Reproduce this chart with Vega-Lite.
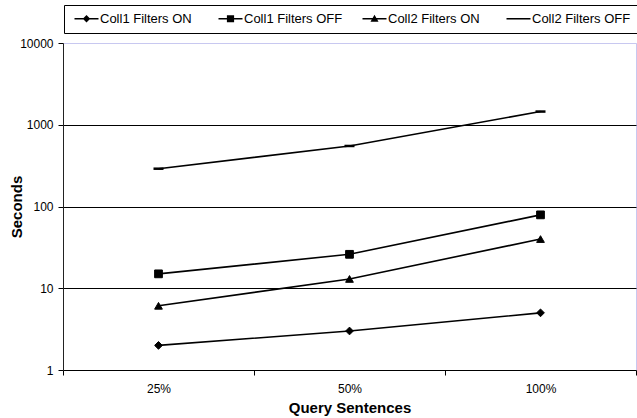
{
  "$schema": "https://vega.github.io/schema/vega-lite/v6.json",
  "width": 573,
  "height": 327,
  "autosize": {"type": "none"},
  "padding": {"left": 63, "top": 43, "right": 1, "bottom": 48},
  "background": "white",
  "config": {
    "font": "Liberation Sans",
    "view": {"stroke": "#c8c8f0", "strokeWidth": 1}
  },
  "data": {
    "values": [
      {"series": "Coll1 Filters ON", "pct": "25%", "seconds": 2},
      {"series": "Coll1 Filters ON", "pct": "50%", "seconds": 3},
      {"series": "Coll1 Filters ON", "pct": "100%", "seconds": 5},
      {"series": "Coll1 Filters OFF", "pct": "25%", "seconds": 15},
      {"series": "Coll1 Filters OFF", "pct": "50%", "seconds": 26},
      {"series": "Coll1 Filters OFF", "pct": "100%", "seconds": 79},
      {"series": "Coll2 Filters ON", "pct": "25%", "seconds": 6.1},
      {"series": "Coll2 Filters ON", "pct": "50%", "seconds": 13},
      {"series": "Coll2 Filters ON", "pct": "100%", "seconds": 40},
      {"series": "Coll2 Filters OFF", "pct": "25%", "seconds": 290},
      {"series": "Coll2 Filters OFF", "pct": "50%", "seconds": 550},
      {"series": "Coll2 Filters OFF", "pct": "100%", "seconds": 1450}
    ]
  },
  "encoding": {
    "x": {
      "field": "pct",
      "type": "ordinal",
      "sort": ["25%", "50%", "100%"],
      "bandPosition": 0.5,
      "scale": {"type": "band", "paddingInner": 0, "paddingOuter": 0},
      "axis": {
        "title": "Query Sentences",
        "titleFont": "Liberation Sans",
        "titleFontSize": 15,
        "titleFontWeight": "bold",
        "titleColor": "black",
        "titleY": 42,
        "titleBaseline": "alphabetic",
        "labelFont": "Liberation Sans",
        "labelFontSize": 12,
        "labelColor": "black",
        "labelAngle": 0,
        "labelPadding": 8,
        "tickSize": 5,
        "tickBand": "extent",
        "tickColor": "black",
        "domainColor": "black",
        "grid": false
      }
    },
    "y": {
      "field": "seconds",
      "type": "quantitative",
      "scale": {"type": "log", "domain": [1, 10000]},
      "axis": {
        "title": "Seconds",
        "titleFont": "Liberation Sans",
        "titleFontSize": 15,
        "titleFontWeight": "bold",
        "titleColor": "black",
        "titleX": -42,
        "titleY": 163.5,
        "titleAngle": -90,
        "titleAlign": "center",
        "titleBaseline": "alphabetic",
        "values": [1, 10, 100, 1000, 10000],
        "format": "d",
        "labelFont": "Liberation Sans",
        "labelFontSize": 12,
        "labelColor": "black",
        "labelPadding": 5,
        "tickSize": 5,
        "tickColor": "black",
        "domainColor": "#222222",
        "grid": true,
        "gridColor": {"condition": {"test": "datum.value === 10000 || datum.value === 1", "value": "#c8c8f0"}, "value": "black"},
        "gridOpacity": 1,
        "gridWidth": 1
      }
    }
  },
  "resolve": {"scale": {"shape": "independent"}, "legend": {"shape": "independent"}},
  "layer": [
    {
      "mark": {"type": "line", "color": "black", "strokeWidth": 1.6},
      "encoding": {
        "detail": {"field": "series", "type": "nominal"}
      }
    },
    {
      "mark": {"type": "point", "filled": true, "color": "black", "fill": "black", "stroke": "black", "strokeWidth": 1, "opacity": 1, "size": 60},
      "encoding": {
        "shape": {
          "field": "series",
          "type": "nominal",
          "scale": {
            "domain": ["Coll1 Filters ON", "Coll1 Filters OFF", "Coll2 Filters ON", "Coll2 Filters OFF"],
            "range": ["diamond", "square", "triangle-up", "stroke"]
          },
          "legend": null
        }
      }
    },
    {
      "transform": [{"filter": "datum.series === 'Coll2 Filters OFF'"}],
      "mark": {"type": "point", "shape": "stroke", "size": 100, "stroke": "black", "strokeWidth": 2.5, "opacity": 1},
      "encoding": {}
    },
    {
      "mark": {"type": "point", "filled": true, "color": "black", "opacity": 0, "size": 144},
      "encoding": {
        "shape": {
          "field": "series",
          "type": "nominal",
          "scale": {
            "domain": ["Coll1 Filters ON", "Coll1 Filters OFF", "Coll2 Filters ON", "Coll2 Filters OFF"],
            "range": [
              "M-0.5,-0.13L3.5,-0.13L3.5,0.13L-0.5,0.13ZM1.5,-0.62L2.12,0L1.5,0.62L0.88,0Z",
              "M-0.5,-0.13L3.5,-0.13L3.5,0.13L-0.5,0.13ZM0.9,-0.6L2.1,-0.6L2.1,0.6L0.9,0.6Z",
              "M-0.5,-0.13L3.5,-0.13L3.5,0.13L-0.5,0.13ZM1.5,-0.68L2.17,0.52L0.83,0.52Z",
              "M-0.5,-0.13L3.5,-0.13L3.5,0.13L-0.5,0.13Z"
            ]
          },
          "legend": {
            "orient": "none",
            "legendX": 1,
            "legendY": -38,
            "direction": "horizontal",
            "title": null,
            "padding": 7,
            "strokeColor": "black",
            "fillColor": "white",
            "symbolSize": 144,
            "symbolStrokeWidth": 0,
            "symbolFillColor": "black",
            "symbolOpacity": 1,
            "labelFont": "Liberation Sans",
            "labelFontSize": 13,
            "labelColor": "black",
            "labelOffset": 16,
            "gridAlign": "all",
            "columnPadding": 16
          }
        }
      }
    }
  ]
}
